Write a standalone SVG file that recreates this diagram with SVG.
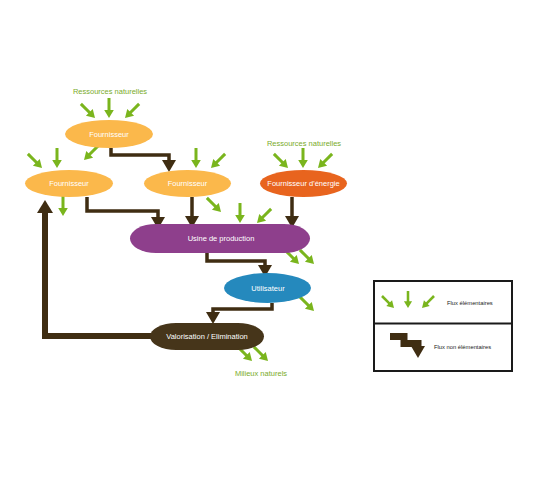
<svg xmlns="http://www.w3.org/2000/svg" xmlns:xlink="http://www.w3.org/1999/xlink" width="548" height="491" viewBox="0 0 548 491">
<style>
.lbl{font-family:"Liberation Sans",Arial,sans-serif;font-size:7.5px;fill:#ffffff;text-anchor:middle;dominant-baseline:central}
.res{font-family:"Liberation Sans",Arial,sans-serif;font-size:7.5px;fill:#7aab2c;text-anchor:middle;dominant-baseline:central}
.leg{font-family:"Liberation Sans",Arial,sans-serif;font-size:5.8px;fill:#1a1a1a;dominant-baseline:central}
.con{fill:none;stroke:#3f2d12;stroke-width:3.5;stroke-linejoin:miter}
.green{fill:#7ab51d;stroke:none}
</style>
<defs>
<marker id="ah" markerUnits="userSpaceOnUse" markerWidth="14" markerHeight="14" refX="0" refY="7" orient="auto" overflow="visible">
<path d="M0,0 L12,7 L0,14 z" fill="#3f2d12"/>
</marker>
<marker id="ahb" markerUnits="userSpaceOnUse" markerWidth="16" markerHeight="16" refX="0" refY="8" orient="auto" overflow="visible">
<path d="M0,0 L13,8 L0,16 z" fill="#3f2d12"/>
</marker>
<g id="ga">
<rect x="-1.5" y="-20" width="3" height="13" class="green"/>
<path d="M-4.8,-8 L4.8,-8 L0,0 z" class="green"/>
</g>
</defs>

<g id="connectors">
<path class="con" d="M111,148 V155 H169 V160" marker-end="url(#ah)"/>
<path class="con" d="M87,197 V211 H158 V217" marker-end="url(#ah)"/>
<path class="con" d="M192,197 V216" marker-end="url(#ah)"/>
<path class="con" d="M292,197 V216" marker-end="url(#ah)"/>
<path class="con" d="M207,253 V261 H265 V265" marker-end="url(#ah)"/>
<path class="con" d="M272,303 V309 H213 V312" marker-end="url(#ah)"/>
<path class="con" style="stroke-width:6" d="M152,336 H45 V213" marker-end="url(#ahb)"/>
</g>

<g id="flows">
<use xlink:href="#ga" transform="translate(95,118) rotate(-45)"/>
<use xlink:href="#ga" transform="translate(109,118)"/>
<use xlink:href="#ga" transform="translate(125,118) rotate(45)"/>
<use xlink:href="#ga" transform="translate(84,160) rotate(45)"/>
<use xlink:href="#ga" transform="translate(42,168) rotate(-45)"/>
<use xlink:href="#ga" transform="translate(57,168)"/>
<use xlink:href="#ga" transform="translate(63,216)"/>
<use xlink:href="#ga" transform="translate(196,168)"/>
<use xlink:href="#ga" transform="translate(211,168) rotate(45)"/>
<use xlink:href="#ga" transform="translate(288,168) rotate(-45)"/>
<use xlink:href="#ga" transform="translate(303,168)"/>
<use xlink:href="#ga" transform="translate(318,168) rotate(45)"/>
<use xlink:href="#ga" transform="translate(221,212) rotate(-45)"/>
<use xlink:href="#ga" transform="translate(240,223)"/>
<use xlink:href="#ga" transform="translate(257,223) rotate(45)"/>
<use xlink:href="#ga" transform="translate(299,264) rotate(-45)"/>
<use xlink:href="#ga" transform="translate(314,264) rotate(-45)"/>
<use xlink:href="#ga" transform="translate(314,311) rotate(-45)"/>
<use xlink:href="#ga" transform="translate(252,361) rotate(-45)"/>
<use xlink:href="#ga" transform="translate(268,361) rotate(-45)"/>
</g>

<text class="res" x="110" y="91">Ressources naturelles</text>
<text class="res" x="304" y="143">Ressources naturelles</text>
<text class="res" x="261" y="373">Milieux naturels</text>

<g id="fournisseur-top">
<ellipse cx="109" cy="134" rx="44" ry="14" fill="#fbb84b"/>
<text class="lbl" x="109" y="134">Fournisseur</text>
</g>
<g id="fournisseur-left">
<ellipse cx="69" cy="183.5" rx="44" ry="13.5" fill="#fbb84b"/>
<text class="lbl" x="69" y="183.5">Fournisseur</text>
</g>
<g id="fournisseur-mid">
<ellipse cx="187.5" cy="183.5" rx="43.5" ry="13.5" fill="#fbb84b"/>
<text class="lbl" x="187.5" y="183.5">Fournisseur</text>
</g>
<g id="fournisseur-energie">
<ellipse cx="303.5" cy="183.5" rx="43.5" ry="13.5" fill="#e8641e"/>
<text class="lbl" x="303.5" y="183.5">Fournisseur d'énergie</text>
</g>
<g id="usine">
<rect x="130" y="224" width="180" height="29" rx="26" ry="14.5" fill="#8e3f8c"/>
<text class="lbl" x="221" y="238.5">Usine de production</text>
</g>
<g id="utilisateur">
<ellipse cx="267.5" cy="288" rx="43.5" ry="15" fill="#2589bd"/>
<text class="lbl" x="268" y="288">Utilisateur</text>
</g>
<g id="valorisation">
<rect x="150" y="323" width="114" height="27" rx="26" ry="13.5" fill="#46351a"/>
<text class="lbl" x="207" y="336.5">Valorisation / Elimination</text>
</g>

<g id="legend">
<rect x="374" y="281" width="138" height="90" fill="#ffffff" stroke="#1a1a1a" stroke-width="2"/>
<line x1="374" y1="323.5" x2="512" y2="323.5" stroke="#1a1a1a" stroke-width="2"/>
<use xlink:href="#ga" transform="translate(394,308) rotate(-45) scale(0.85)"/>
<use xlink:href="#ga" transform="translate(408,308) scale(0.85)"/>
<use xlink:href="#ga" transform="translate(422,308) rotate(45) scale(0.85)"/>
<text class="leg" x="447" y="303">Flux élémentaires</text>
<path d="M390,336.5 H404 V343.5 H418 V346" fill="none" stroke="#3f2d12" stroke-width="7"/>
<path d="M411,346 L425,346 L418,358 z" fill="#3f2d12"/>
<text class="leg" x="434" y="347">Flux non élémentaires</text>
</g>
</svg>
